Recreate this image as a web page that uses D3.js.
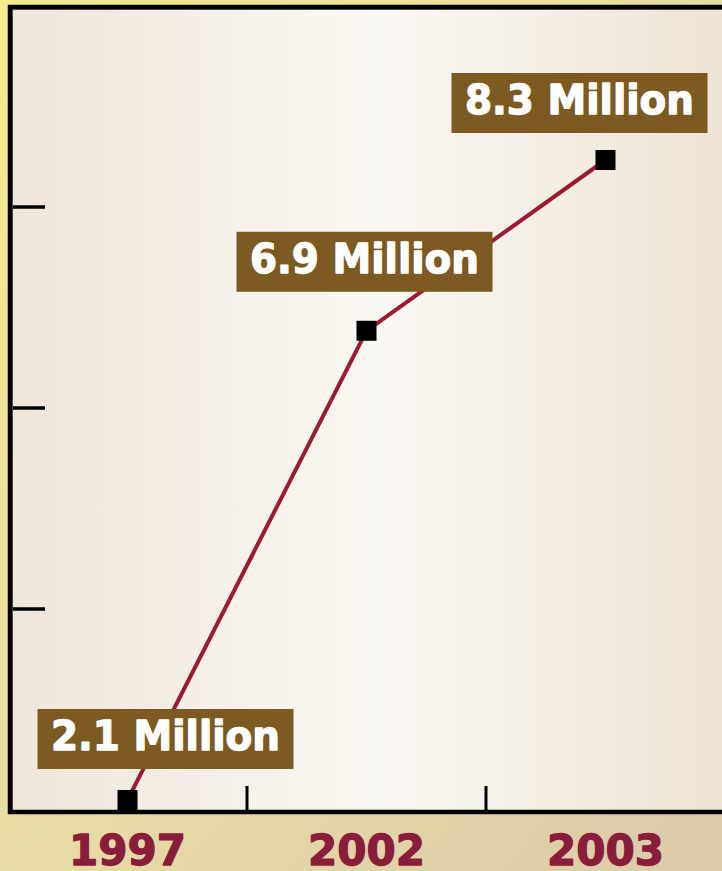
<!DOCTYPE html>
<html>
<head>
<meta charset="utf-8">
<script src="https://cdn.jsdelivr.net/npm/d3@7"></script>
<style>
  html, body { margin: 0; padding: 0; background: #e9dda6; }
  svg { display: block; }
</style>
</head>
<body>
<script>
// ---- data ----
const years = ["1997", "2002", "2003"];
const values = [2.1, 6.9, 8.3];           // millions
const valueLabels = ["2.1 Million", "6.9 Million", "8.3 Million"];
const yTickSteps = [1, 2, 3];              // unlabeled quarter ticks

// ---- layout ----
const W = 722, H = 871;
const plot = { left: 10, top: 7, right: 760, bottom: 812 };
const labelOffset = [{dx: 38, dy: -31}, {dx: -2, dy: -39}, {dx: -26, dy: -27}];
const boxW = 256, boxH = 60;

const svg = d3.select("body").append("svg").attr("width", W).attr("height", H);
const defs = svg.append("defs");

const outer = defs.append("linearGradient").attr("id", "outerG")
  .attr("x1", 0).attr("y1", 0).attr("x2", 1).attr("y2", 1);
outer.append("stop").attr("offset", 0).attr("stop-color", "#f3ea8c");
outer.append("stop").attr("offset", 0.5).attr("stop-color", "#e8dca5");
outer.append("stop").attr("offset", 1).attr("stop-color", "#dccaaa");

const inner = defs.append("linearGradient").attr("id", "innerG")
  .attr("gradientUnits", "userSpaceOnUse")
  .attr("x1", 12).attr("y1", 0).attr("x2", 722).attr("y2", 0);
inner.append("stop").attr("offset", 0).attr("stop-color", "#efe6da");
inner.append("stop").attr("offset", 0.52).attr("stop-color", "#faf8f3");
inner.append("stop").attr("offset", 1).attr("stop-color", "#eee4d6");

svg.append("rect").attr("width", W).attr("height", H).attr("fill", "url(#outerG)");
svg.append("rect").attr("x", plot.left).attr("y", plot.top)
  .attr("width", plot.right - plot.left).attr("height", plot.bottom - plot.top)
  .attr("fill", "url(#innerG)");

// ---- scales ----
const xBand = d3.scaleBand().domain(years).range([8, 725]).padding(0);
const xPos = d => xBand(d) + xBand.bandwidth() / 2;
const y = d3.scalePow().exponent(1.4).domain([2.1, 8.3]).range([800, 160]);
const yTick = d3.scaleLinear().domain([0, 4]).range([810, 6]);

const data = years.map((yr, i) => ({ year: yr, value: values[i], label: valueLabels[i], off: labelOffset[i] }));

// ---- line ----
svg.append("path").datum(data)
  .attr("d", d3.line().x(d => xPos(d.year)).y(d => y(d.value)))
  .attr("fill", "none").attr("stroke", "#9b1c31").attr("stroke-width", 4);

// ---- markers ----
svg.selectAll("rect.mk").data(data).join("rect").attr("class", "mk")
  .attr("x", d => xPos(d.year) - 10).attr("y", d => y(d.value) - 10)
  .attr("width", 20).attr("height", 20).attr("fill", "#000");

// ---- label boxes ----
const lab = svg.selectAll("g.lab").data(data).join("g").attr("class", "lab")
  .attr("transform", d => `translate(${xPos(d.year) + d.off.dx - boxW / 2},${y(d.value) + d.off.dy - boxH})`);
lab.append("rect").attr("width", boxW).attr("height", boxH).attr("fill", "#7d5a21");
lab.append("text").attr("x", boxW / 2).attr("y", 41).attr("text-anchor", "middle")
  .attr("font-family", "DejaVu Sans").attr("font-weight", "bold").attr("font-size", 41)
  .attr("textLength", 229).attr("lengthAdjust", "spacingAndGlyphs")
  .attr("fill", "#ffffff").attr("stroke", "#ffffff").attr("stroke-width", 1.3)
  .attr("stroke-linejoin", "round").text(d => d.label);

// ---- ticks ----
svg.selectAll("line.yt").data(yTickSteps).join("line").attr("class", "yt")
  .attr("x1", 10).attr("x2", 45).attr("y1", d => yTick(d)).attr("y2", d => yTick(d))
  .attr("stroke", "#000").attr("stroke-width", 3.5);
svg.selectAll("line.xt").data(years.slice(1)).join("line").attr("class", "xt")
  .attr("x1", d => xBand(d)).attr("x2", d => xBand(d))
  .attr("y1", 786).attr("y2", plot.bottom)
  .attr("stroke", "#000").attr("stroke-width", 3);

// ---- frame ----
svg.append("path")
  .attr("d", `M${W + 10},${plot.top + 2.5} H${plot.left + 2.5} V${plot.bottom - 2}`)
  .attr("fill", "none").attr("stroke", "#6a6450").attr("stroke-width", 1);
svg.append("path")
  .attr("d", `M${W + 10},${plot.top} H${plot.left} V${plot.bottom} H${W + 10}`)
  .attr("fill", "none").attr("stroke", "#000").attr("stroke-width", 4.5);

// ---- year labels ----
svg.selectAll("text.yr").data(years).join("text").attr("class", "yr")
  .attr("x", d => xPos(d)).attr("y", 865).attr("text-anchor", "middle")
  .attr("font-family", "DejaVu Sans").attr("font-weight", "bold").attr("font-size", 42)
  .attr("fill", "#8a1c3c").attr("stroke", "#8a1c3c").attr("stroke-width", 1.3)
  .attr("stroke-linejoin", "round").text(d => d);
</script>
</body>
</html>
